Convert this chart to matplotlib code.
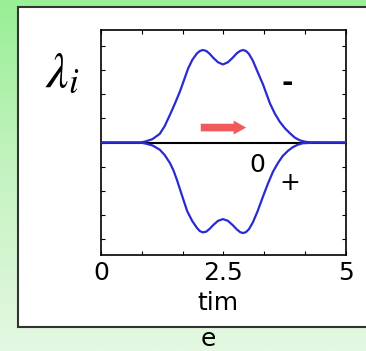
import numpy as np
import matplotlib
matplotlib.use("Agg")
import matplotlib.pyplot as plt
from matplotlib.patches import Rectangle
from matplotlib.colors import LinearSegmentedColormap

# curve values
t_upper = [0.0, 0.5, 0.8, 0.9, 1.05, 1.2, 1.3, 1.41, 1.51, 1.61, 1.7, 1.78, 1.87, 1.96, 2.02, 2.08, 2.15, 2.22, 2.29, 2.39, 2.49,
           2.59, 2.69, 2.77, 2.84, 2.9, 2.96, 3.02, 3.1, 3.2, 3.31, 3.45, 3.55, 3.65, 3.76, 3.86, 3.96, 4.06, 4.17, 4.27, 4.6, 5.0]
lam_upper = [0.0, 0.0, 0.0, 0.04, 0.14, 0.36, 0.68, 1.16, 1.62, 2.11, 2.62, 3.08, 3.45, 3.7, 3.8, 3.84, 3.8, 3.68, 3.52, 3.33, 3.24,
             3.33, 3.52, 3.7, 3.8, 3.84, 3.8, 3.68, 3.4, 2.92, 2.4, 1.62, 1.2, 0.86, 0.58, 0.38, 0.2, 0.09, 0.03, 0.01, 0.0, 0.0]
t_lower = [0.0, 0.5, 0.8, 0.9, 1.05, 1.2, 1.3, 1.41, 1.48, 1.55, 1.67, 1.76, 1.86, 1.96, 2.02, 2.08, 2.15, 2.22, 2.29, 2.39, 2.49,
           2.59, 2.69, 2.77, 2.84, 2.9, 2.96, 3.02, 3.1, 3.2, 3.31, 3.41, 3.51, 3.61, 3.71, 3.82, 3.92, 4.02, 4.12, 4.4, 5.0]
lam_lower = [0.0, 0.0, 0.0, -0.04, -0.12, -0.3, -0.52, -0.86, -1.16, -1.55, -2.3, -2.85, -3.25, -3.55, -3.68, -3.73, -3.7, -3.58,
             -3.43, -3.25, -3.18, -3.25, -3.43, -3.6, -3.72, -3.76, -3.72, -3.6, -3.32, -2.84, -2.23, -1.7, -1.22, -0.86, -0.56,
             -0.34, -0.19, -0.09, -0.03, 0.0, 0.0]

xtick_vals = [0, 5/6, 10/6, 2.5, 20/6, 25/6, 5]
xtick_labels = ["0", "", "", "2.5", "", "", "5"]
ytick_vals = [-4, -3, -2, -1, 0, 1, 2, 3, 4]

arrow_from = (1.98, 0.62)
arrow_to = (3.02, 0.62)

plt.rcParams["mathtext.fontset"] = "stix"
fig = plt.figure(figsize=(3.66, 3.51), dpi=100)

# green background, bright at the top, pale at the bottom
bg = fig.add_axes([0, 0, 1, 1], zorder=-10)
grad = np.linspace(0, 1, 256).reshape(-1, 1)
cm = LinearSegmentedColormap.from_list("g", ["#98ef96", "#c6f3c2", "#e4f8e2"])
bg.imshow(grad, aspect="auto", cmap=cm, extent=[0, 1, 0, 1], origin="upper")
bg.set_xlim(0, 1)
bg.set_ylim(0, 1)
bg.axis("off")

# white panel
fig.patches.append(Rectangle((0.049, 0.068), 1.0, 0.912, transform=fig.transFigure,
                             facecolor="white", edgecolor="#333333", lw=1.5, zorder=-5))

ax = fig.add_axes([0.276, 0.2735, 0.669, 0.641])
ax.set_facecolor("white")
ax.axhline(0, color="black", lw=1.5, zorder=2)
ax.plot(t_upper, lam_upper, color="#2a2ad0", lw=1.6, zorder=3)
ax.plot(t_lower, lam_lower, color="#2a2ad0", lw=1.6, zorder=3)

ax.annotate("", xy=arrow_to, xytext=arrow_from,
            arrowprops=dict(arrowstyle="simple,head_length=0.9,head_width=1.0,tail_width=0.55",
                            color="#f05a5a", lw=0))

ax.set_xlim(0, 5)
ax.set_ylim(-4.67, 4.67)
ax.set_xticks(xtick_vals)
ax.set_xticklabels(xtick_labels, fontfamily="DejaVu Sans", fontsize=18)
ax.set_yticks(ytick_vals)
ax.set_yticklabels([])
ax.tick_params(direction="in", length=3, width=0.8, top=True, right=True, pad=4)
for s in ax.spines.values():
    s.set_linewidth(1.2)

ax.text(3.8, 2.45, "-", fontsize=20, fontweight="bold", ha="center", va="center")
ax.text(3.2, -0.92, "0", fontsize=18, ha="center", va="center")
ax.text(3.86, -1.68, "+", fontsize=18, ha="center", va="center")

fig.text(0.17, 0.795, r"$\lambda_i$", fontsize=36, ha="center", va="center")
fig.text(0.596, 0.138, "tim", fontsize=18, ha="center", va="center")
fig.text(0.568, 0.035, "e", fontsize=18, ha="center", va="center")

fig.savefig("out.png", dpi=100)
